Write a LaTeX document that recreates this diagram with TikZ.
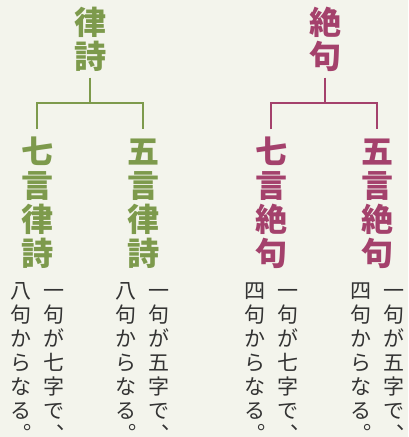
\documentclass[tikz,border=0pt]{standalone}
\usepackage{fontspec}
\newfontfamily\jp{Noto Sans CJK JP}
\definecolor{bg}{HTML}{F3F4EC}
\definecolor{lvg}{HTML}{7D9A4C}
\definecolor{zkm}{HTML}{A4416C}
\definecolor{txt}{HTML}{333333}
\newcommand\pu[1]{\makebox[1em][l]{\hspace*{0.6em}\raisebox{0.62em}{#1}}}
\newcommand\vcol[6]{%
  \foreach \c [count=\i] in {#6} {\node[#5] (#1-\i) at (#2, #3+\i*#4-#4) {\c};}}
\tikzset{
  ttl/.style={font=\jp\bfseries\fontsize{32}{34}\selectfont, inner sep=0pt, anchor=base, yshift=-12.16pt},
  dsc/.style={font=\jp\fontsize{21}{24}\selectfont, text=txt, inner sep=0pt, anchor=base, yshift=-7.98pt},
  conn/.style={line width=2pt, line join=miter}
}
\begin{document}
\begin{tikzpicture}[x=1pt,y=-1pt]
\fill[bg] (0,0) rectangle (408,437);
\useasboundingbox (0,0) rectangle (408,437);
% --- 律詩 ---
\vcol{lt}{90}{22.5}{34}{ttl,text=lvg}{律,詩}
\vcol{la}{37}{151}{34}{ttl,text=lvg}{七,言,律,詩}
\vcol{lb}{143}{151}{34}{ttl,text=lvg}{五,言,律,詩}
\vcol{la1}{54}{291}{24}{dsc}{一,句,が,七,字,で,\pu{、}}
\vcol{la2}{21}{291}{24}{dsc}{八,句,か,ら,な,る,\pu{。}}
\vcol{lb1}{159}{291}{24}{dsc}{一,句,が,五,字,で,\pu{、}}
\vcol{lb2}{126}{291}{24}{dsc}{八,句,か,ら,な,る,\pu{。}}
\coordinate (lj) at (90,103);
\draw[conn,lvg] ([yshift=-8.84pt]lt-2.base) -- (lj);
\draw[conn,lvg] ([yshift=34.16pt]la-1.base) |- (lj) -| ([yshift=34.16pt]lb-1.base);
% --- 絶句 ---
\vcol{rt}{325}{22.5}{34}{ttl,text=zkm}{絶,句}
\vcol{ra}{271}{151}{34}{ttl,text=zkm}{七,言,絶,句}
\vcol{rb}{377}{151}{34}{ttl,text=zkm}{五,言,絶,句}
\vcol{ra1}{288}{291}{24}{dsc}{一,句,が,七,字,で,\pu{、}}
\vcol{ra2}{255}{291}{24}{dsc}{四,句,か,ら,な,る,\pu{。}}
\vcol{rb1}{394}{291}{24}{dsc}{一,句,が,五,字,で,\pu{、}}
\vcol{rb2}{361}{291}{24}{dsc}{四,句,か,ら,な,る,\pu{。}}
\coordinate (rj) at (325,103);
\draw[conn,zkm] ([yshift=-8.84pt]rt-2.base) -- (rj);
\draw[conn,zkm] ([yshift=34.16pt]ra-1.base) |- (rj) -| ([yshift=34.16pt]rb-1.base);
\end{tikzpicture}
\end{document}
